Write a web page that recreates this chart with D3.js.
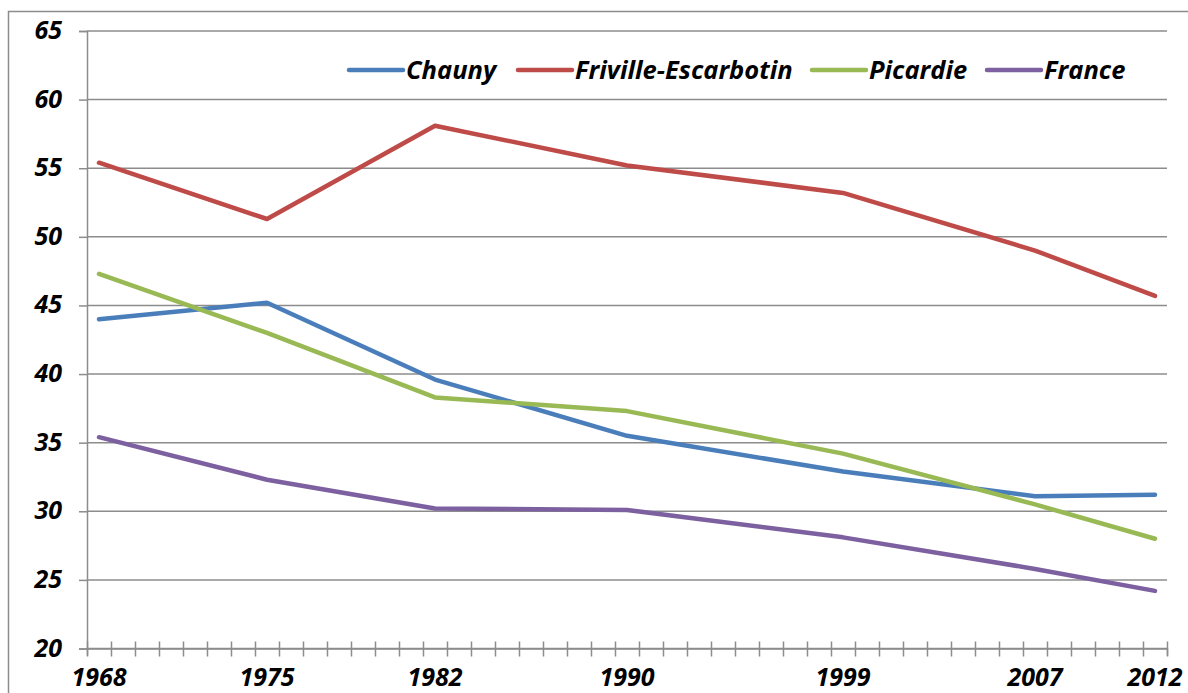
<!DOCTYPE html>
<html>
<head>
<meta charset="utf-8">
<script src="https://cdn.jsdelivr.net/npm/d3@7"></script>
<style>
  body { margin: 0; background: #fff; }
  text { font-family: "Open Sans", Lato, sans-serif; font-weight: bold; font-style: italic; }
</style>
</head>
<body>
<div id="chart"></div>
<script>
// Data
var years = d3.range(1968, 2013);
var labelYears = [1968, 1975, 1982, 1990, 1999, 2007, 2012];
var censusYears = [1968, 1975, 1982, 1990, 1999, 2007, 2012];
var yTicks = [20, 25, 30, 35, 40, 45, 50, 55, 60, 65];

var seriesNames = ["Chauny", "Friville-Escarbotin", "Picardie", "France"];
var seriesColors = ["#4a7ebb", "#be4b48", "#98b954", "#7d60a0"];
var chauny = [44.0, 45.2, 39.6, 35.5, 32.9, 31.1, 31.2];
var friville = [55.4, 51.3, 58.1, 55.2, 53.2, 49.0, 45.7];
var picardie = [47.3, 43.0, 38.3, 37.3, 34.2, 30.5, 28.0];
var france = [35.4, 32.3, 30.2, 30.1, 28.1, 25.8, 24.2];
var seriesValues = [chauny, friville, picardie, france];

var width = 1188;
var height = 693;
var margin = {top: 31, right: 21, bottom: 45, left: 87};

var svg = d3.select("#chart")
    .append("svg")
    .attr("width", width)
    .attr("height", height);

// outer frame (goes off the right and bottom edges)
svg.append("rect")
    .attr("x", 8.5).attr("y", 11.5)
    .attr("width", 1200).attr("height", 700)
    .attr("fill", "none")
    .attr("stroke", "#8c8c8c")
    .attr("stroke-width", 1.5);

// category axis: each year gets one slot, ticks between slots
var x = d3.scaleLinear()
    .domain([years[0] - 0.5, years[years.length - 1] + 0.5])
    .range([margin.left, width - margin.right]);

var y = d3.scaleLinear()
    .domain([20, 65])
    .range([height - margin.bottom + 0.5, margin.top]);

// gridlines
svg.append("g")
    .selectAll("line")
    .data(yTicks)
    .enter()
    .append("line")
    .attr("x1", margin.left)
    .attr("x2", width - margin.right)
    .attr("y1", function(d) { return y(d); })
    .attr("y2", function(d) { return y(d); })
    .attr("stroke", "#8c8c8c")
    .attr("stroke-width", 1.5);

// y axis
var yAxis = svg.append("g")
    .attr("transform", "translate(" + margin.left + ",0)")
    .call(d3.axisLeft(y).tickValues(yTicks).tickSize(8).tickPadding(17));
yAxis.select(".domain").attr("stroke", "#8c8c8c").attr("stroke-width", 1.5);
yAxis.selectAll(".tick line").attr("stroke", "#8c8c8c").attr("stroke-width", 1.5);
yAxis.selectAll(".tick text")
    .attr("fill", "#000")
    .attr("dy", "0.3em")
    .style("font-size", "25px");

// x axis: tick marks at slot boundaries
var bounds = d3.range(years.length + 1).map(function(i) { return years[0] - 0.5 + i; });
var xAxis = svg.append("g")
    .attr("transform", "translate(0," + y(20) + ")")
    .call(d3.axisBottom(x).tickValues(bounds).tickSize(7).tickFormat(""));
xAxis.select(".domain").attr("stroke", "#8c8c8c").attr("stroke-width", 1.5);
xAxis.selectAll(".tick line")
    .attr("y1", -7)
    .attr("y2", 8)
    .attr("stroke", "#8c8c8c")
    .attr("stroke-width", 1.5);

// x labels centered in their slot
svg.append("g")
    .selectAll("text")
    .data(labelYears)
    .enter()
    .append("text")
    .attr("x", function(d) { return x(d); })
    .attr("y", y(20) + 37)
    .attr("text-anchor", "middle")
    .style("font-size", "25px")
    .text(function(d) { return d; });

// lines
var line = d3.line()
    .x(function(d) { return x(d[0]); })
    .y(function(d) { return y(d[1]); });

svg.append("g")
    .selectAll("path")
    .data(seriesValues)
    .enter()
    .append("path")
    .attr("d", function(vals) { return line(vals.map(function(v, i) { return [censusYears[i], v]; })); })
    .attr("fill", "none")
    .attr("stroke", function(d, i) { return seriesColors[i]; })
    .attr("stroke-width", 4.5)
    .attr("stroke-linecap", "round")
    .attr("stroke-linejoin", "round");

// legend
var legendX = [349, 518, 812, 987];
var legend = svg.append("g")
    .selectAll("g")
    .data(seriesNames)
    .enter()
    .append("g")
    .attr("transform", function(d, i) { return "translate(" + legendX[i] + ",70)"; });
legend.append("line")
    .attr("x1", 0).attr("x2", 54)
    .attr("stroke", function(d, i) { return seriesColors[i]; })
    .attr("stroke-width", 4.5)
    .attr("stroke-linecap", "round");
legend.append("text")
    .attr("x", 57)
    .attr("y", 9)
    .style("font-size", "25.5px")
    .text(function(d) { return d; });
</script>
</body>
</html>
